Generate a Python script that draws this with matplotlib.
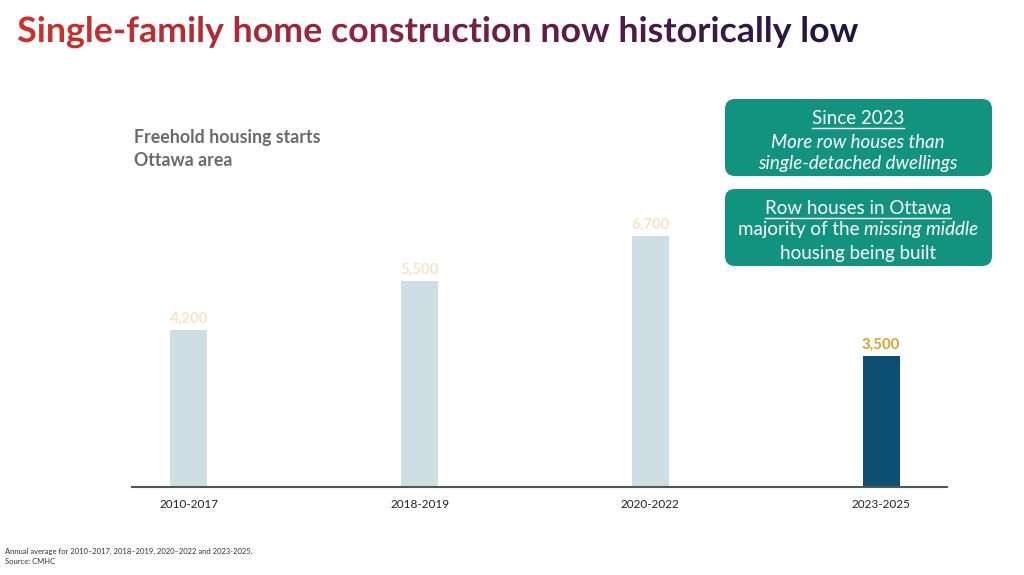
import matplotlib
matplotlib.use("Agg")
import matplotlib.pyplot as plt
import numpy as np
from matplotlib.textpath import TextPath
from matplotlib.font_manager import FontProperties
from matplotlib.patches import PathPatch, FancyBboxPatch
from matplotlib.transforms import Affine2D
from matplotlib.colors import LinearSegmentedColormap

periods = ["2010-2017", "2018-2019", "2020-2022", "2023-2025"]
starts = [4200, 5500, 6700, 3500]
value_labels = ["4,200", "5,500", "6,700", "3,500"]

title = "Single-family home construction now historically low"
subtitle = ["Freehold housing starts", "Ottawa area"]
footnote = ["Annual average for 2010\u20132017, 2018\u20132019, 2020\u20132022 and 2023-2025.",
            "Source: CMHC"]

FONT = "Lato"
TEAL = "#12937f"

fig = plt.figure(figsize=(10.24, 5.75), dpi=100)

# main bar chart
ax = fig.add_axes([132 / 1024, 1 - 487 / 575, 815 / 1024, 300 / 575])
x = np.arange(len(periods))
bar_colors = ["#cfdde5", "#cfdde5", "#cfdde5", "#0d4f72"]
lab_colors = ["#f6e4c6", "#f6e4c6", "#f6e4c6", "#d9a02a"]
ax.bar(x, starts, width=0.16, color=bar_colors)
for xi, v, lab, c in zip(x, starts, value_labels, lab_colors):
    ax.text(xi, v + 110, lab, ha="center", va="bottom", fontsize=10.8,
            fontweight="bold", color=c, family=FONT)
ax.set_xlim(-57 / 231, 3 + 66 / 231)
ax.set_ylim(0, 8000)
ax.set_xticks(x)
ax.set_xticklabels(periods, fontsize=8.5, family=FONT, color="#222222")
ax.tick_params(axis="x", length=0, pad=9)
ax.set_yticks([])
for s in ["top", "right", "left"]:
    ax.spines[s].set_visible(False)
ax.spines["bottom"].set_color("#555555")
ax.spines["bottom"].set_linewidth(1.5)

# overlay in pixel coordinates
ov = fig.add_axes([0, 0, 1, 1], zorder=5)
ov.set_xlim(0, 1024)
ov.set_ylim(575, 0)
ov.axis("off")

# gradient title
tp = TextPath((0, 0), title, size=40, prop=FontProperties(family=FONT, weight="bold"))
ext = tp.get_extents()
sx = 840 / ext.width
sy = 25 / 28.6
tr = Affine2D().translate(-ext.x0, 0).scale(sx, -sy).translate(18, 42)
patch = PathPatch(tp, transform=tr + ov.transData, facecolor="none", edgecolor="none")
ov.add_patch(patch)
cmap = LinearSegmentedColormap.from_list("t", ["#d3302a", "#b02a35", "#7a2245", "#4a1a48", "#1e1440"])
grad = np.linspace(0, 1, 256).reshape(1, -1)
im = ov.imshow(grad, cmap=cmap, extent=[18, 860, 50, 5], aspect="auto", origin="upper")
im.set_clip_path(patch)
ov.set_xlim(0, 1024)
ov.set_ylim(575, 0)

# subtitle
for i, line in enumerate(subtitle):
    ov.text(134, 138 + i * 22, line, fontsize=12.8, fontweight="bold", color="#6a6a6a",
            family=FONT, va="center", ha="left")

# footnote
for i, line in enumerate(footnote):
    ov.text(5, 551 + i * 10, line, fontsize=5.5, color="#333333", family=FONT,
            va="center", ha="left")

# callout boxes
for y0 in [99, 189]:
    ov.add_patch(FancyBboxPatch((725 + 10, y0 + 10), 267 - 20, 77 - 20,
                                boxstyle="round,pad=10", facecolor=TEAL,
                                edgecolor="none"))

fig.canvas.draw()
r = fig.canvas.get_renderer()


def width_px(t):
    bb = t.get_window_extent(renderer=r)
    return bb.width


cx = 858
fs = 13.5


def underlined(txt, y):
    t = ov.text(cx, y, txt, fontsize=fs, color="white", family=FONT,
                ha="center", va="center")
    w = width_px(t)
    ov.plot([cx - w / 2, cx + w / 2], [y + 10, y + 10], color="white", lw=1)


underlined("Since 2023", 118)
ov.text(cx, 142, "More row houses than", fontsize=fs, style="italic", color="white",
        family=FONT, ha="center", va="center")
ov.text(cx, 164, "single-detached dwellings", fontsize=fs, style="italic", color="white",
        family=FONT, ha="center", va="center")

underlined("Row houses in Ottawa", 208)
a = ov.text(0, 230, "majority of the ", fontsize=fs, color="white", family=FONT,
            ha="left", va="center")
b = ov.text(0, 230, "missing middle", fontsize=fs, style="italic", color="white",
            family=FONT, ha="left", va="center")
wa, wb = width_px(a), width_px(b)
left = cx - (wa + wb) / 2
a.set_x(left)
b.set_x(left + wa)
ov.text(cx, 253, "housing being built", fontsize=fs, color="white", family=FONT,
        ha="center", va="center")

fig.savefig("out.png", dpi=100, facecolor="white")
